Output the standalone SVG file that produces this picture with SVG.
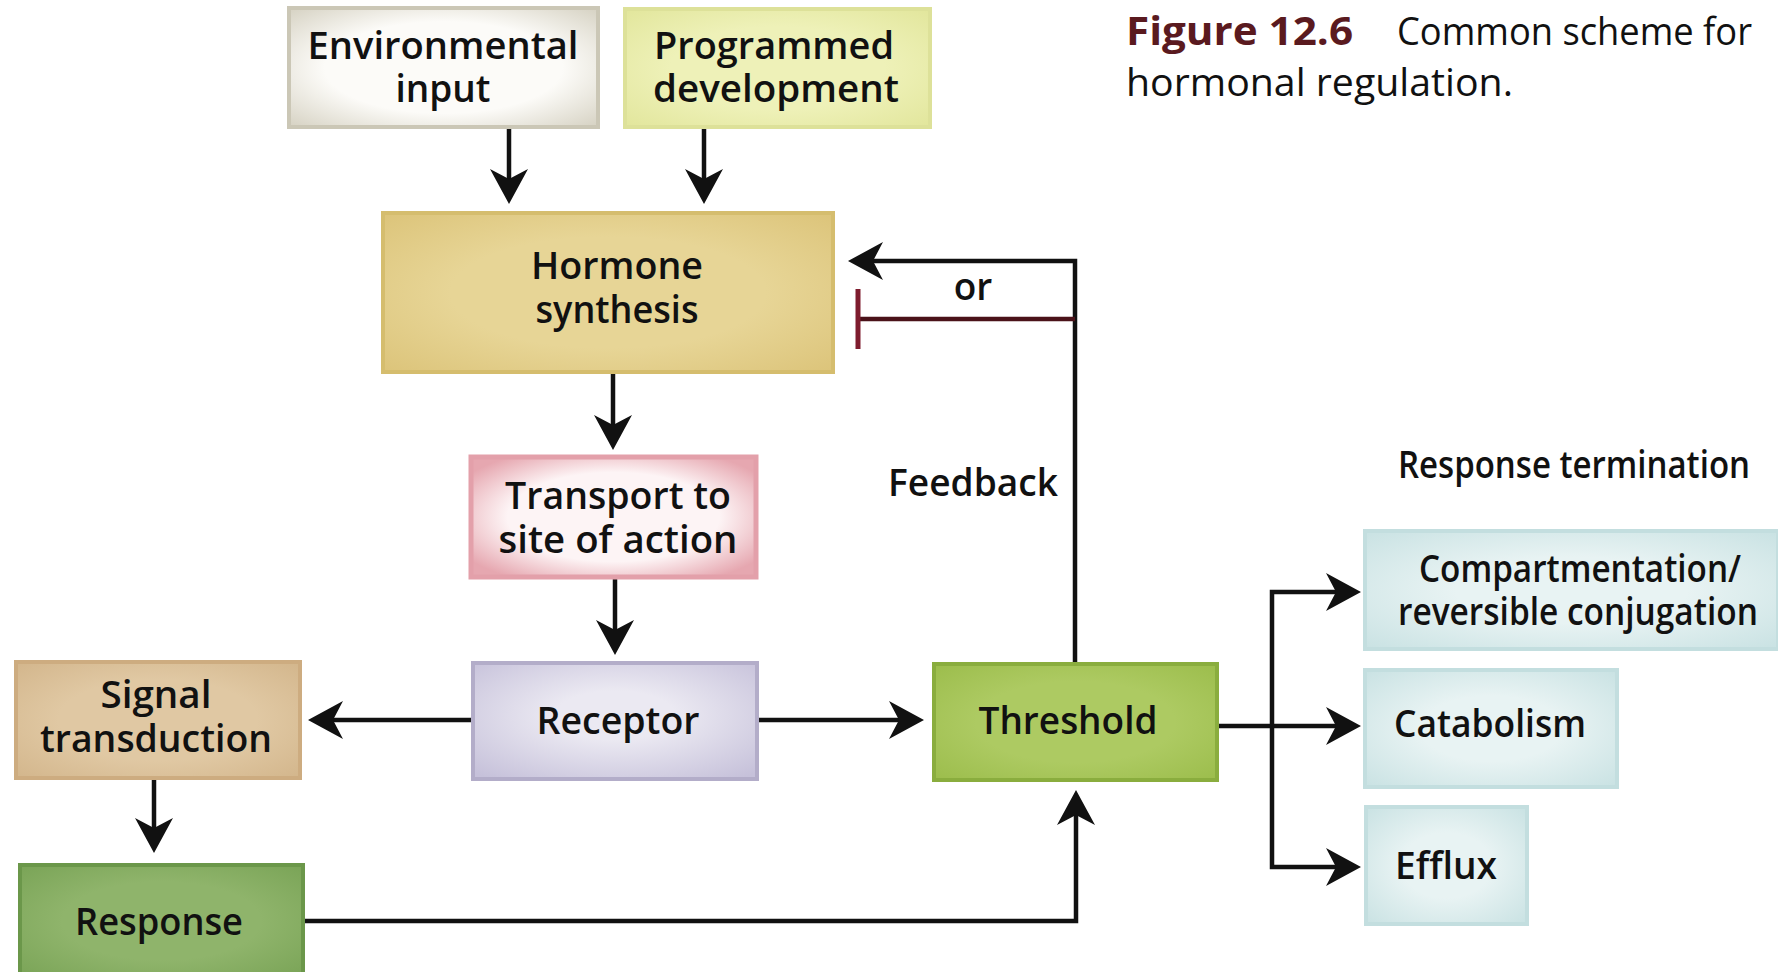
<svg xmlns="http://www.w3.org/2000/svg" width="1778" height="972" viewBox="0 0 1778 972">
<style>
.lbl{font-family:"Open Sans","Liberation Sans",sans-serif;font-weight:600;font-size:37px;fill:#111;text-anchor:middle}
.lbl-s{font-family:"Open Sans","Liberation Sans",sans-serif;font-weight:600;font-size:37px;fill:#111}
.title-b{font-family:"Open Sans","Liberation Sans",sans-serif;font-weight:700;font-size:39px;fill:#5a1a1f}
.title{font-family:"Open Sans","Liberation Sans",sans-serif;font-weight:400;font-size:39px;fill:#111}
.conn{fill:none;stroke:#111;stroke-width:4.5}
.inh{fill:none;stroke:#4a1219;stroke-width:4.5}
.bar{fill:none;stroke:#7e1c2e;stroke-width:5}
</style>
<defs>
<marker id="ah" markerUnits="userSpaceOnUse" orient="auto" refX="0" refY="0" markerWidth="1" markerHeight="1" overflow="visible">
<path d="M10 0 L-25 -19 L-15 0 L-25 19 Z" fill="#111"/>
</marker>
<radialGradient id="gEnv" cx="0.5" cy="0.5" r="0.7"><stop offset="0.55" stop-color="#fcfbf8"/><stop offset="1" stop-color="#d6d2c3"/></radialGradient>
<radialGradient id="gProg" cx="0.5" cy="0.5" r="0.7"><stop offset="0.5" stop-color="#eef1b8"/><stop offset="1" stop-color="#e2e69c"/></radialGradient>
<radialGradient id="gHorm" cx="0.5" cy="0.5" r="0.7"><stop offset="0.5" stop-color="#e7d596"/><stop offset="1" stop-color="#dcc47a"/></radialGradient>
<radialGradient id="gTrans" cx="0.5" cy="0.5" r="0.62"><stop offset="0.6" stop-color="#fdf4f5"/><stop offset="1" stop-color="#e6a7b0"/></radialGradient>
<radialGradient id="gRec" cx="0.5" cy="0.45" r="0.7"><stop offset="0.3" stop-color="#ebe9f2"/><stop offset="1" stop-color="#c6c1da"/></radialGradient>
<radialGradient id="gSig" cx="0.5" cy="0.5" r="0.7"><stop offset="0.5" stop-color="#e0c8a3"/><stop offset="1" stop-color="#d3b68c"/></radialGradient>
<radialGradient id="gResp" cx="0.5" cy="0.5" r="0.7"><stop offset="0.5" stop-color="#8fb46b"/><stop offset="1" stop-color="#7aa457"/></radialGradient>
<radialGradient id="gThr" cx="0.5" cy="0.5" r="0.7"><stop offset="0.5" stop-color="#adca62"/><stop offset="1" stop-color="#9cbd4c"/></radialGradient>
<radialGradient id="gTerm" cx="0.5" cy="0.5" r="0.7"><stop offset="0.4" stop-color="#e8f3f3"/><stop offset="1" stop-color="#c9e2e3"/></radialGradient>
</defs>

<g id="title">
<text class="title-b" x="1126" y="45" textLength="227" lengthAdjust="spacingAndGlyphs">Figure 12.6</text>
<text class="title" x="1397" y="45" textLength="355" lengthAdjust="spacingAndGlyphs">Common scheme for</text>
<text class="title" x="1126" y="96" textLength="387" lengthAdjust="spacingAndGlyphs">hormonal regulation.</text>
</g>

<g id="connectors">
<path class="conn" d="M509 127 V194" marker-end="url(#ah)"/>
<path class="conn" d="M704 127 V194" marker-end="url(#ah)"/>
<path class="conn" d="M613 372 V440" marker-end="url(#ah)"/>
<path class="conn" d="M615 577 V645" marker-end="url(#ah)"/>
<path class="conn" d="M473 720 H318" marker-end="url(#ah)"/>
<path class="conn" d="M757 720 H914" marker-end="url(#ah)"/>
<path class="conn" d="M154 778 V843" marker-end="url(#ah)"/>
<path class="conn" d="M303 921 H1076 V800" marker-end="url(#ah)"/>
<path class="conn" d="M1075 664 V261 H858" marker-end="url(#ah)"/>
<path class="inh" d="M1075 319 H858"/>
<path class="bar" d="M858 289 V349"/>
<path class="conn" d="M1217 726 H1351" marker-end="url(#ah)"/>
<path class="conn" d="M1272 728 V592 H1351" marker-end="url(#ah)"/>
<path class="conn" d="M1272 724 V867 H1351" marker-end="url(#ah)"/>
</g>

<g id="env-input">
<rect x="289" y="8" width="309" height="119" fill="url(#gEnv)" stroke="#cbc7b6" stroke-width="4"/>
<text class="lbl" x="443" y="59" textLength="271" lengthAdjust="spacingAndGlyphs">Environmental</text>
<text class="lbl" x="443" y="102">input</text>
</g>

<g id="programmed-development">
<rect x="625" y="9" width="305" height="118" fill="url(#gProg)" stroke="#dde199" stroke-width="4"/>
<text class="lbl" x="774" y="59" textLength="240" lengthAdjust="spacingAndGlyphs">Programmed</text>
<text class="lbl" x="776" y="102" textLength="246" lengthAdjust="spacingAndGlyphs">development</text>
</g>

<g id="hormone-synthesis">
<rect x="383" y="213" width="450" height="159" fill="url(#gHorm)" stroke="#d5bd6e" stroke-width="4"/>
<text class="lbl" x="617" y="279" textLength="172" lengthAdjust="spacingAndGlyphs">Hormone</text>
<text class="lbl" x="617" y="323" textLength="163" lengthAdjust="spacingAndGlyphs">synthesis</text>
</g>

<g id="transport">
<rect x="471" y="457" width="285" height="120" fill="url(#gTrans)" stroke="#e3a0aa" stroke-width="5"/>
<text class="lbl" x="618" y="509" textLength="226" lengthAdjust="spacingAndGlyphs">Transport to</text>
<text class="lbl" x="618" y="553" textLength="239" lengthAdjust="spacingAndGlyphs">site of action</text>
</g>

<g id="receptor">
<rect x="473" y="663" width="284" height="116" fill="url(#gRec)" stroke="#b3adc9" stroke-width="4"/>
<text class="lbl" x="618" y="734" textLength="163" lengthAdjust="spacingAndGlyphs">Receptor</text>
</g>

<g id="signal-transduction">
<rect x="16" y="662" width="284" height="116" fill="url(#gSig)" stroke="#cdac80" stroke-width="4"/>
<text class="lbl" x="156" y="708" textLength="111" lengthAdjust="spacingAndGlyphs">Signal</text>
<text class="lbl" x="156" y="752" textLength="232" lengthAdjust="spacingAndGlyphs">transduction</text>
</g>

<g id="response">
<rect x="20" y="865" width="283" height="112" fill="url(#gResp)" stroke="#6b974a" stroke-width="4"/>
<text class="lbl" x="159" y="935" textLength="168" lengthAdjust="spacingAndGlyphs">Response</text>
</g>

<g id="threshold">
<rect x="934" y="664" width="283" height="116" fill="url(#gThr)" stroke="#8aad3e" stroke-width="4"/>
<text class="lbl" x="1068" y="734" textLength="179" lengthAdjust="spacingAndGlyphs">Threshold</text>
</g>

<g id="labels">
<text class="lbl" x="973" y="300">or</text>
<text class="lbl-s" x="888" y="496" textLength="170" lengthAdjust="spacingAndGlyphs">Feedback</text>
<text class="lbl-s" x="1398" y="478" textLength="352" lengthAdjust="spacingAndGlyphs">Response termination</text>
</g>

<g id="compartmentation">
<rect x="1365" y="531" width="413" height="118" fill="url(#gTerm)" stroke="#c3dedf" stroke-width="4"/>
<text class="lbl" x="1580" y="582" textLength="322" lengthAdjust="spacingAndGlyphs">Compartmentation/</text>
<text class="lbl" x="1578" y="625" textLength="360" lengthAdjust="spacingAndGlyphs">reversible conjugation</text>
</g>

<g id="catabolism">
<rect x="1365" y="670" width="252" height="117" fill="url(#gTerm)" stroke="#c3dedf" stroke-width="4"/>
<text class="lbl-s" x="1394" y="737" textLength="192" lengthAdjust="spacingAndGlyphs">Catabolism</text>
</g>

<g id="efflux">
<rect x="1366" y="807" width="161" height="117" fill="url(#gTerm)" stroke="#c3dedf" stroke-width="4"/>
<text class="lbl-s" x="1395" y="879" textLength="102" lengthAdjust="spacingAndGlyphs">Efflux</text>
</g>
</svg>
